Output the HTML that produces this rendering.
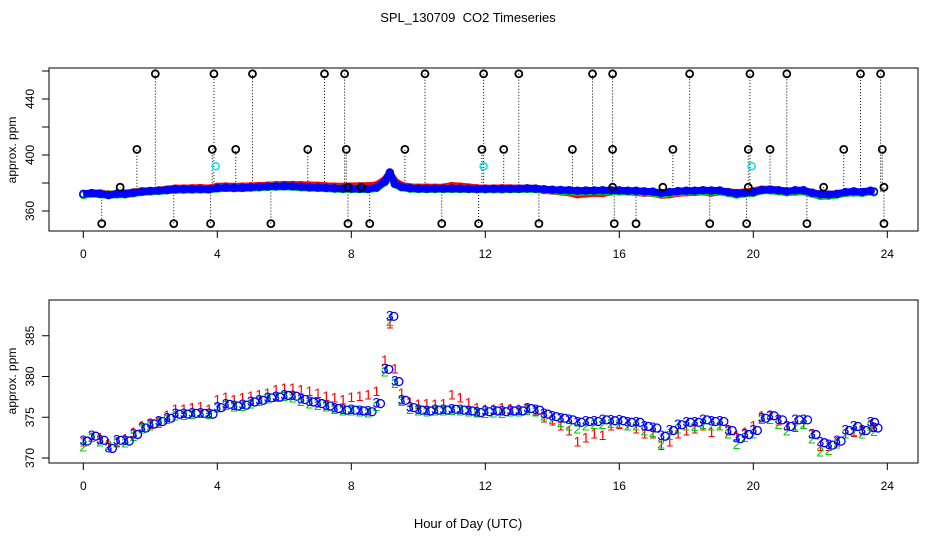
<!DOCTYPE html>
<html><head><meta charset="utf-8"><style>
html,body{margin:0;padding:0;background:#fff;}
svg{display:block;font-family:"Liberation Sans",sans-serif;}
</style></head><body>
<svg id="chart" width="936" height="540" viewBox="0 0 936 540">
<text x="468" y="22" font-size="13" text-anchor="middle" style="white-space:pre">SPL_130709  CO2 Timeseries</text>
<g id="topPanel"></g>
<g id="botPanel"></g>
<text x="468" y="528" font-size="13" text-anchor="middle">Hour of Day (UTC)</text>
</svg>
<script>
const hours = [0,0.25,0.5,0.75,1,1.25,1.5,1.75,2,2.25,2.5,2.75,3,3.25,3.5,3.75,
4,4.25,4.5,4.75,5,5.25,5.5,5.75,6,6.25,6.5,6.75,7,7.25,7.5,7.75,
8,8.25,8.5,8.75,9,9.15,9.3,9.5,9.75,10,10.25,10.5,10.75,11,11.25,11.5,11.75,
12,12.25,12.5,12.75,13,13.25,13.5,13.75,14,14.25,14.5,14.75,15,15.25,15.5,15.75,
16,16.25,16.5,16.75,17,17.25,17.5,17.75,18,18.25,18.5,18.75,19,19.25,19.5,19.75,
20,20.25,20.5,20.75,21,21.25,21.5,21.75,22,22.25,22.5,22.75,23,23.25,23.5,23.6];
const blue = [372.2,372.8,372.3,371.3,372.3,372.2,373.0,373.8,374.3,374.6,375.0,375.5,375.5,375.6,375.6,375.5,
376.3,376.7,376.5,376.6,377.0,377.2,377.5,377.6,377.8,377.7,377.3,377.0,376.8,376.5,376.2,376.0,
376.0,375.9,375.8,376.8,381.0,387.5,379.5,377.2,376.3,376.0,375.9,376.0,376.0,376.1,376.0,375.9,375.7,
375.8,375.9,375.8,375.9,375.9,376.2,376.0,375.5,375.2,375.0,374.8,374.5,374.6,374.6,374.8,374.7,
374.7,374.5,374.5,374.0,373.8,372.8,373.5,374.2,374.5,374.5,374.8,374.6,374.6,373.5,372.5,373.0,
373.5,375.0,375.3,374.8,374.0,374.8,374.8,373.0,372.0,371.7,372.2,373.5,374.0,373.5,374.5,373.8];
const red = [372.0,372.6,372.5,371.8,372.0,372.4,373.2,374.0,374.2,374.5,375.3,376.0,376.0,376.2,376.3,376.0,
377.2,377.5,377.2,377.4,377.6,377.8,378.0,378.4,378.6,378.6,378.4,378.2,378.0,377.6,377.4,377.2,
377.5,377.6,377.8,378.2,382.0,386.5,381.0,378.0,376.9,376.6,376.7,376.6,376.7,377.8,377.4,376.8,376.2,
376.0,376.0,376.2,376.1,376.0,376.1,375.8,375.0,374.6,374.0,373.4,372.0,372.5,373.0,372.8,374.0,
374.2,374.0,373.6,373.0,373.0,371.6,372.0,373.0,373.4,373.6,374.0,373.2,374.0,373.4,372.8,373.2,
374.0,375.2,375.3,374.6,374.0,373.8,374.2,373.0,371.5,371.5,372.0,373.0,373.2,373.4,374.2,373.8];
const green = [371.4,372.6,372.0,371.6,371.9,371.9,372.7,373.6,374.0,374.3,374.8,375.2,375.3,375.4,375.5,375.4,
376.2,376.5,376.3,376.4,376.7,377.0,377.3,377.5,377.6,377.4,377.0,376.7,376.5,376.3,376.0,375.8,
375.8,375.7,375.6,376.4,380.6,386.8,379.2,377.0,376.0,375.8,375.7,375.8,375.8,375.9,375.8,375.7,375.6,
375.5,375.6,375.5,375.7,375.7,375.9,375.7,375.2,374.8,374.4,374.0,373.6,374.0,374.2,374.2,374.3,
374.3,374.0,374.0,373.4,373.2,371.8,372.8,373.6,374.0,373.9,374.2,374.0,374.0,373.0,371.7,372.6,
373.0,374.8,374.8,374.2,373.4,374.0,374.2,372.4,370.8,371.0,371.8,373.0,373.3,373.0,374.0,373.3];
const outHours = [2.15,3.9,5.05,7.2,7.8,10.2,11.95,13.0,15.2,15.8,18.1,19.9,21.0,23.2,23.8,
1.6,3.85,4.55,6.7,7.85,9.6,11.9,12.55,14.6,15.8,17.6,19.85,20.5,22.7,23.85,
0.55,2.7,3.8,5.6,7.9,8.55,10.7,11.8,13.6,15.85,16.5,18.7,19.8,21.6,23.9,
1.1,7.9,8.3,15.8,17.3,19.85,22.1,23.9];
const outValues = [458,458,458,458,458,458,458,458,458,458,458,458,458,458,458,
404,404,404,404,404,404,404,404,404,404,404,404,404,404,404,
351,351,351,351,351,351,351,351,351,351,351,351,351,351,351,
377,377,377,377,377,377,377,377];
const cyanHours = [3.95,11.95,19.95];
const cyanValues = [392,392,392];
const xTicks = [0,4,8,12,16,20,24];
const topYTicks = [360,380,400,420,440,460];
const topYLabels = [360,400,440];
const botYTicks = [370,375,380,385];

const NS="http://www.w3.org/2000/svg";
function mk(parent,tag,attrs){const e=document.createElementNS(NS,tag);for(const k in attrs)e.setAttribute(k,attrs[k]);parent.appendChild(e);return e;}
const X = h => 83.3 + h*33.5;
const Yt = v => 211 - (v-360)*1.4;
const Yb = v => 458 - (v-370)*8.15;

function axes(g, y0, y1, ticks, labels, yfn, ylabY){
  let e=mk(g,'rect',{x:49,y:y0,width:869,height:y1-y0,fill:'none',stroke:'#000','stroke-width':1});
  
  
  xTicks.forEach(t=>{
    let l=mk(g,'line',{x1:X(t),x2:X(t),y1:y1,y2:y1+7,stroke:'#000'});
    
    
    let tx=mk(g,'text',{x:X(t),y:y1+27,'font-size':12,'text-anchor':'middle'});
    tx.textContent=t;
    
    
  });
  ticks.forEach(t=>{
    let l=mk(g,'line',{x1:42,x2:49,y1:yfn(t),y2:yfn(t),stroke:'#000'});
    
    
  });
  labels.forEach(t=>{
    let tx=mk(g,'text',{x:0,y:0,'font-size':12,'text-anchor':'middle',transform:`translate(34,${yfn(t)}) rotate(-90)`});
    tx.textContent=t;
    
    
  });
  let yl=mk(g,'text',{x:0,y:0,'font-size':12,'text-anchor':'middle',transform:`translate(16,${ylabY}) rotate(-90)`});
  yl.textContent='approx. ppm';
  
  
}

const topG=document.getElementById('topPanel'), botG=document.getElementById('botPanel');
axes(topG,68,231,topYTicks,topYLabels,Yt,150);
axes(botG,300,463,botYTicks,botYTicks,Yb,381);

function nearestBlue(h){let bi=0;hours.forEach((x,i)=>{if(Math.abs(x-h)<Math.abs(hours[bi]-h))bi=i;});return blue[bi];}
outHours.forEach((h,i)=>{
  let l=mk(topG,'line',{x1:X(h),x2:X(h),y1:Yt(nearestBlue(h)),y2:Yt(outValues[i]),stroke:'#000','stroke-dasharray':'1,2','stroke-width':1});
  
  
});
const series=[[red,'#ff0000'],[green,'#00cc00'],[blue,'#0000ff']];
series.forEach(([arr,col],si)=>{
  let pts=hours.map((h,i)=>X(h)+','+Yt(arr[i])).join(' ');
  let pl=mk(topG,'polyline',{points:pts,fill:'none',stroke:col,'stroke-width':si==2?7:8,'stroke-linejoin':'round'});
  
  
  hours.forEach((h,i)=>{
    let c=mk(topG,'circle',{cx:X(h),cy:Yt(arr[i]),r:3.5,fill:'none',stroke:col,'stroke-width':1.5});
    
    
  });
});
outHours.forEach((h,i)=>{
  let c=mk(topG,'circle',{cx:X(h),cy:Yt(outValues[i]),r:3.5,fill:'none',stroke:'#000','stroke-width':1.8});
  
  
});
cyanHours.forEach((h,i)=>{
  let c=mk(topG,'circle',{cx:X(h),cy:Yt(cyanValues[i]),r:3.5,fill:'none',stroke:'#00e5e5','stroke-width':1.5});
  
  
});

[[red,'#ff0000','1'],[green,'#00cc00','2'],[blue,'#0000ff','3']].forEach(([arr,col,ch])=>{
  hours.forEach((h,i)=>{
    let t=mk(botG,'text',{x:X(h),y:Yb(arr[i])+5,'font-size':14,fill:col,'text-anchor':'middle'});
    t.textContent=ch;
    
    
    if(ch==='3'){
      let c=mk(botG,'circle',{cx:X(h)+4,cy:Yb(arr[i])+1,r:4,fill:'none',stroke:col,'stroke-width':1.3});
      
      
    }
  });
});
</script>
</body></html>
